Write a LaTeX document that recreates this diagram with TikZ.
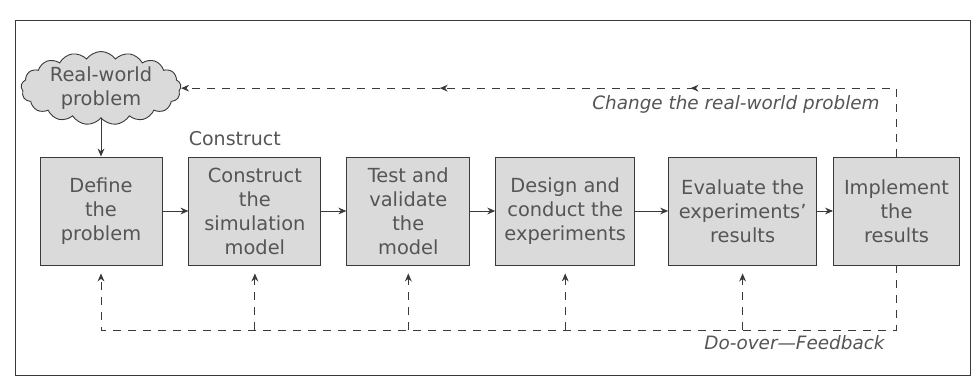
\documentclass[tikz,border=0pt]{standalone}
\usepackage{fontspec}
\setmainfont{DejaVu Sans}
\usetikzlibrary{positioning,shapes.symbols,arrows.meta,decorations.markings}
\definecolor{ink}{HTML}{3A3A3A}
\definecolor{txt}{HTML}{555555}
\definecolor{shade}{HTML}{DADADA}
\tikzset{
  box/.style={rectangle,draw=ink,fill=shade,line width=0.45pt,align=center,
    inner sep=2pt,minimum height=54pt,text=txt,font=\fontsize{9.7}{12}\selectfont},
  cloudy/.style={cloud,cloud puffs=17,cloud puff arc=110,aspect=2.4,draw=ink,
    fill=shade,line width=0.45pt,align=center,inner sep=0pt,text=txt,
    font=\fontsize{9.7}{12}\selectfont},
  tag/.style={inner sep=0pt,text=txt,font=\fontsize{9.5}{12}\selectfont},
  note/.style={tag,font=\fontsize{9.2}{12}\selectfont\itshape},
  fl/.style={-{Stealth[length=4pt,width=3.4pt]},draw=ink,line width=0.45pt},
  fb/.style={draw=ink,line width=0.45pt,dash pattern=on 4pt off 3.5pt},
  tip/.style={-{Stealth[length=4pt,width=3.4pt]}},
}
\begin{document}
\begin{tikzpicture}[x=0.5pt,y=-0.5pt,node distance=10pt]
  \useasboundingbox (0,0) rectangle (977,383);
  \draw[ink,line width=0.45pt] (15,20) rectangle (970,375);
  \node[box,minimum width=61pt] (b1) at (101,211) {Define\\the\\problem};
  \node[box,minimum width=66pt,right=13pt of b1] (b2) {Construct\\the\\simulation\\model};
  \node[box,minimum width=61.5pt,right=12.5pt of b2] (b3) {Test and\\validate\\the\\model};
  \node[box,minimum width=69.5pt,right=12.5pt of b3] (b4) {Design and\\conduct the\\experiments};
  \node[box,minimum width=74pt,right=16.5pt of b4] (b5) {Evaluate the\\experiments'\\results};
  \node[box,minimum width=63pt,right=8pt of b5] (b6) {Implement\\the\\results};
  \node[cloudy,minimum width=80pt,minimum height=32pt,above=19pt of b1] (cl) {Real-world\\problem};
  \node[tag,above right=5pt and 0pt of b2.north west] (cn) {Construct};
  \node[note,anchor=east] (ch) at (880,104) {Change the real-world problem};
  \node[note,anchor=east] (fk) at (885,343) {Do-over---Feedback};
  \coordinate (fbk) at (0,330);
  \draw[fl] (cl) -- (b1);
  \draw[fl] (b1) -- (b2);
  \draw[fl] (b2) -- (b3);
  \draw[fl] (b3) -- (b4);
  \draw[fl] (b4) -- (b5);
  \draw[fl] (b5) -- (b6);
  \draw[fb,tip,postaction={decorate},decoration={markings,
    mark=at position 0.35 with {\arrow{Stealth[length=4pt,width=3.4pt]}},
    mark=at position 0.67 with {\arrow{Stealth[length=4pt,width=3.4pt]}}}]
    (b6.north) |- (cl.east);
  \draw[fb,tip,shorten >=4pt] (b6.south) |- (b1.south |- fbk) -- (b1.south);
  \foreach \b in {b2,b3,b4,b5}
    \draw[fb,tip,shorten >=4pt] (\b.south |- fbk) -- (\b.south);
\end{tikzpicture}
\end{document}
